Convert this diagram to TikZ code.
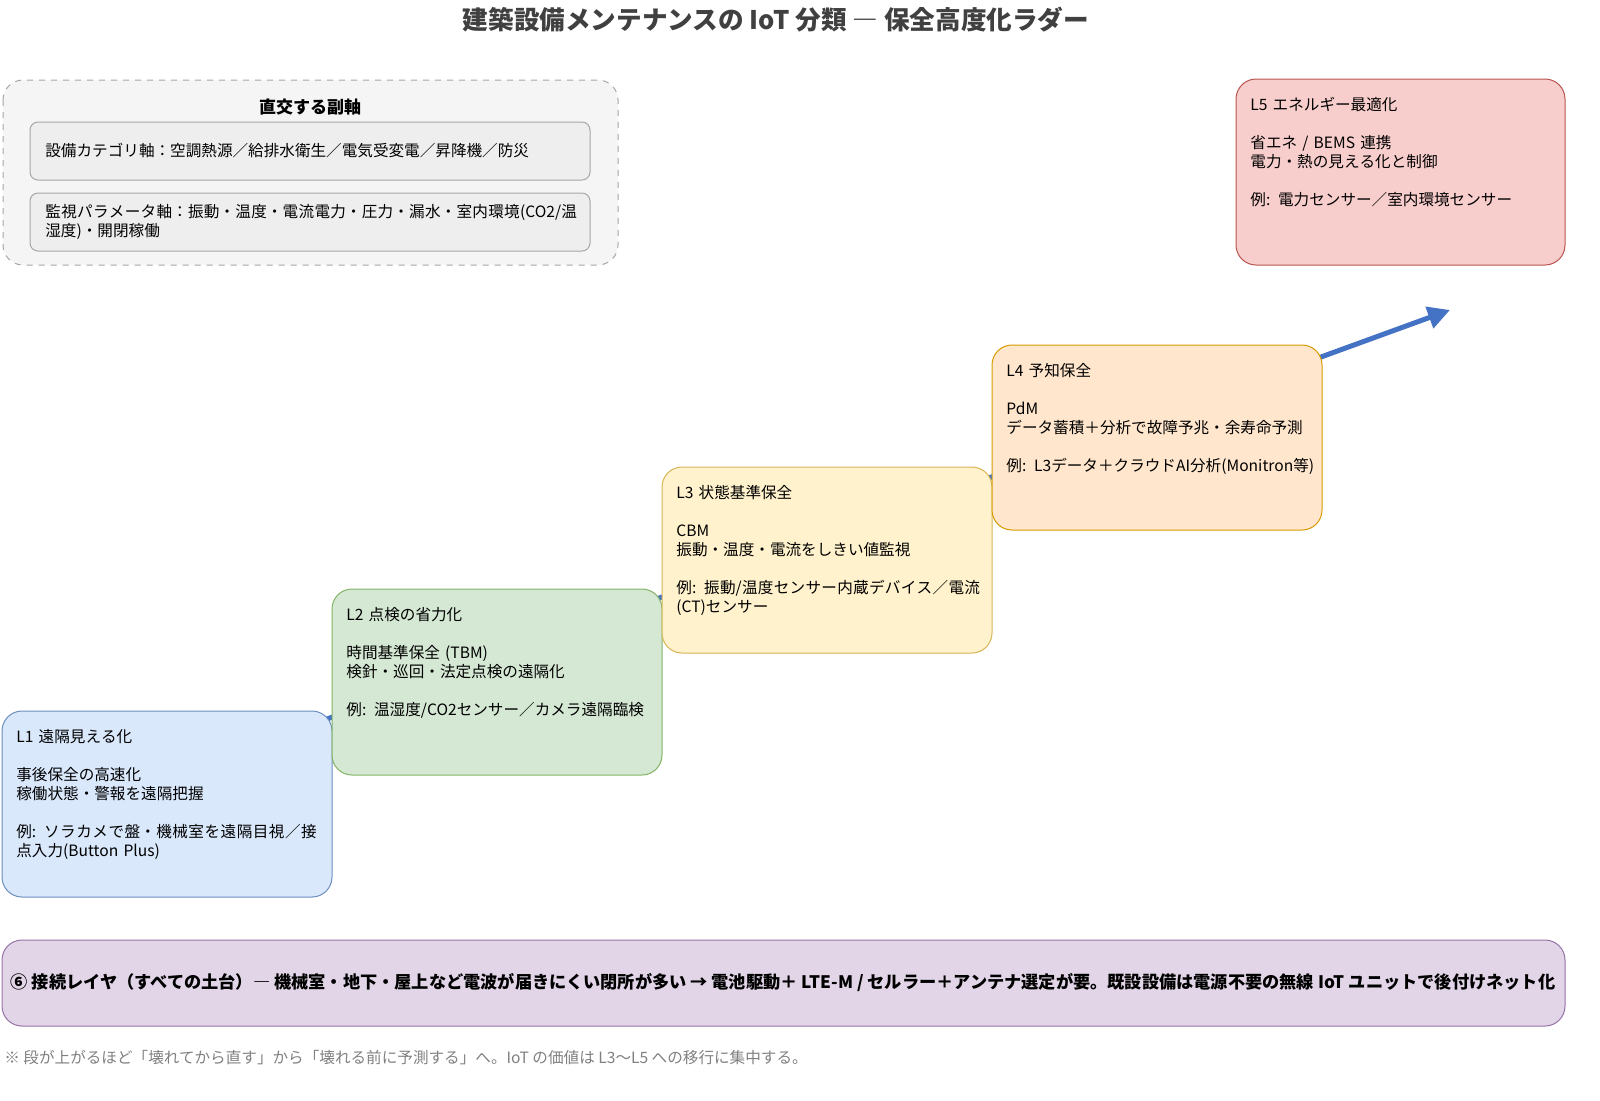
\documentclass[tikz,border=0pt]{standalone}
\usepackage{fontspec}
\setmainfont{Noto Sans CJK JP}
\XeTeXlinebreaklocale "ja"
\XeTeXlinebreakskip=0pt plus 1pt
\usetikzlibrary{positioning, arrows.meta}
\definecolor{lonefill}{HTML}{DAE8FC}\definecolor{loneline}{HTML}{6C8EBF}
\definecolor{ltwofill}{HTML}{D5E8D4}\definecolor{ltwoline}{HTML}{82B366}
\definecolor{lthreefill}{HTML}{FFF2CC}\definecolor{lthreeline}{HTML}{D6B656}
\definecolor{lfourfill}{HTML}{FFE6CC}\definecolor{lfourline}{HTML}{D79B00}
\definecolor{lfivefill}{HTML}{F8CECC}\definecolor{lfiveline}{HTML}{B85450}
\definecolor{netfill}{HTML}{E1D5E7}\definecolor{netline}{HTML}{9673A6}
\definecolor{ladder}{HTML}{4472C4}

\begin{document}
\begin{tikzpicture}[x=0.5pt, y=-0.5pt,
    % Styles
    rung/.style={rounded corners=10pt, line width=0.5pt},
    rungtext/.style={anchor=north west, text width=154pt, align=left, font=\fontsize{7.8}{9.5}\selectfont, inner sep=0pt},
    axis/.style={draw=gray!70, fill=gray!13, rounded corners=4pt, line width=0.5pt},
    arrow/.style={-{Triangle[length=11pt, width=11pt]}, line width=2.5pt, ladder},
]
\useasboundingbox (0,0) rectangle (1600,1100);

% Title
\node[font=\fontsize{12.8}{14}\selectfont\bfseries, text=black!75] (title) at (776,20) {建築設備メンテナンスの IoT 分類 ― 保全高度化ラダー};

% Ladder arrow (behind the rungs)
\coordinate (start) at (165,778);
\coordinate (goal) at (1450,310);
\draw[arrow] (start) -- (goal);

% Side axes
\draw[gray!70, dashed, fill=gray!8, rounded corners=10pt, line width=0.5pt] (3,80) rectangle (618,265);
\node[font=\fontsize{8.5}{10}\selectfont\bfseries] (axes) at (310,107) {直交する副軸};
\draw[axis] (30,122) rectangle (590,180);
\node[rungtext, text width=268pt, anchor=west] (cat) at (45,151) {設備カテゴリ軸：空調熱源／給排水衛生／電気受変電／昇降機／防災};
\draw[axis] (30,193) rectangle (590,251);
\node[rungtext, text width=268pt, anchor=west] (param) at (45,222) {監視パラメータ軸：振動・温度・電流電力・圧力・漏水・室内環境(CO2/温湿度)・開閉稼働};

% L1
\draw[rung, draw=loneline, fill=lonefill] (2,711) rectangle (332,897);
\node[rungtext] (l1) at (16,729) {L1 遠隔見える化\\[9.5pt]事後保全の高速化\\稼働状態・警報を遠隔把握\\[9.5pt]例: ソラカメで盤・機械室を遠隔目視／接点入力(Button Plus)};

% L2
\draw[rung, draw=ltwoline, fill=ltwofill] (332,589) rectangle (662,775);
\node[rungtext] (l2) at (346,607) {L2 点検の省力化\\[9.5pt]時間基準保全 (TBM)\\検針・巡回・法定点検の遠隔化\\[9.5pt]例: 温湿度/CO2センサー／カメラ遠隔臨検};

% L3
\draw[rung, draw=lthreeline, fill=lthreefill] (662,467) rectangle (992,653);
\node[rungtext] (l3) at (676,485) {L3 状態基準保全\\[9.5pt]CBM\\振動・温度・電流をしきい値監視\\[9.5pt]例: 振動/温度センサー内蔵デバイス／電流(CT)センサー};

% L4
\draw[rung, draw=lfourline, fill=lfourfill] (992,345) rectangle (1322,530);
\node[rungtext] (l4) at (1006,363) {L4 予知保全\\[9.5pt]PdM\\データ蓄積＋分析で故障予兆・余寿命予測\\[9.5pt]例: L3データ＋クラウドAI分析(Monitron等)};

% L5
\draw[rung, draw=lfiveline, fill=lfivefill] (1236,79) rectangle (1565,265);
\node[rungtext] (l5) at (1250,97) {L5 エネルギー最適化\\[9.5pt]省エネ / BEMS 連携\\電力・熱の見える化と制御\\[9.5pt]例: 電力センサー／室内環境センサー};

% Connectivity layer
\draw[rung, draw=netline, fill=netfill] (2,940) rectangle (1565,1026);
\node[font=\fontsize{8.6}{10}\selectfont\bfseries, inner sep=0pt] (net) at (783,983) {⑥ 接続レイヤ（すべての土台）― 機械室・地下・屋上など電波が届きにくい閉所が多い → 電池駆動＋ LTE-M / セルラー＋アンテナ選定が要。既設設備は電源不要の無線 IoT ユニットで後付けネット化};

% Footnote
\node[anchor=west, font=\fontsize{7.8}{9}\selectfont, text=gray, inner sep=0pt] (note) at (4,1058) {※ 段が上がるほど「壊れてから直す」から「壊れる前に予測する」へ。IoT の価値は L3〜L5 への移行に集中する。};

\end{tikzpicture}
\end{document}
